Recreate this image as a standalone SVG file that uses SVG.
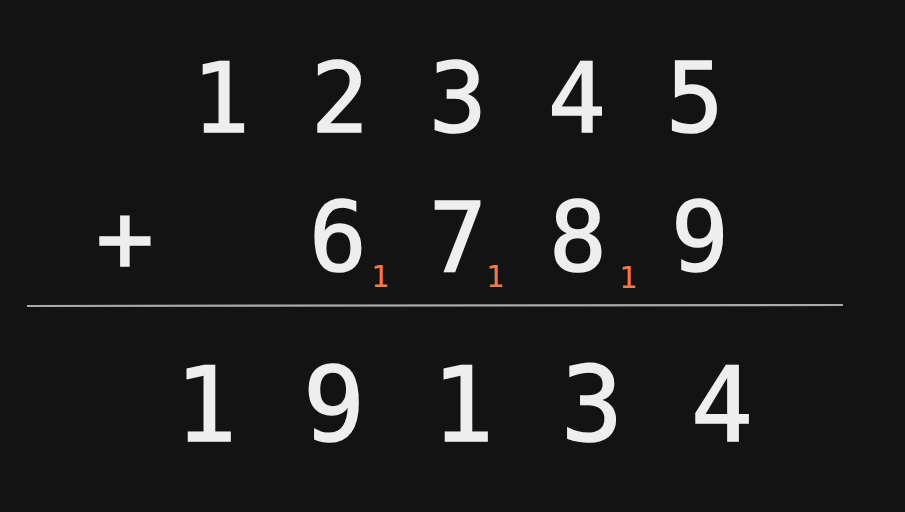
<svg xmlns="http://www.w3.org/2000/svg" width="905" height="512" viewBox="0 0 905 512">
<style>
.d{font-family:"DejaVu Sans Mono","Liberation Mono",monospace;font-size:96px;fill:#eeeeee;stroke:#eeeeee;stroke-width:1.6;text-anchor:middle}
.r{font-family:"DejaVu Sans Mono","Liberation Mono",monospace;font-size:103px;fill:#eeeeee;stroke:#eeeeee;stroke-width:1.6;text-anchor:middle}
.c{font-family:"DejaVu Sans Mono","Liberation Mono",monospace;font-size:30px;fill:#f47b45;text-anchor:middle}
</style>
<rect width="905" height="512" fill="#131313"/>
<g id="row1">
<text class="d" x="221" y="132">1</text>
<text class="d" x="340" y="132">2</text>
<text class="d" x="458" y="132">3</text>
<text class="d" x="577" y="132">4</text>
<text class="d" x="695" y="132">5</text>
</g>
<g id="row2">
<text class="d" x="125" y="271">+</text>
<text class="d" x="338" y="271">6</text>
<text class="d" x="458" y="271">7</text>
<text class="d" x="578" y="271">8</text>
<text class="d" x="700" y="271">9</text>
</g>
<g id="carries">
<text class="c" x="380" y="287">1</text>
<text class="c" x="495" y="287">1</text>
<text class="c" x="628" y="288">1</text>
</g>
<g id="connectors">
<line x1="27" y1="306" x2="843" y2="305" stroke="#aaaaaa" stroke-width="2.2"/>
</g>
<g id="result">
<text class="r" x="206" y="441">1</text>
<text class="r" x="334" y="441">9</text>
<text class="r" x="463" y="441">1</text>
<text class="r" x="592" y="441">3</text>
<text class="r" x="722" y="441">4</text>
</g>
</svg>
